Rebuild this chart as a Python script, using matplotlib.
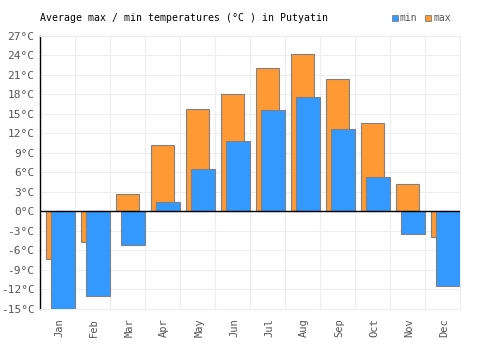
import numpy as np
import matplotlib
matplotlib.use("Agg")
import matplotlib.pyplot as plt
from matplotlib.patches import Rectangle

months = ["Jan", "Feb", "Mar", "Apr", "May", "Jun",
          "Jul", "Aug", "Sep", "Oct", "Nov", "Dec"]
t_max = [-7.3, -4.8, 2.6, 10.2, 15.7, 18.0, 22.0, 24.2, 20.3, 13.5, 4.2, -4.0]
t_min = [-15.0, -13.0, -5.2, 1.4, 6.5, 10.8, 15.5, 17.5, 12.6, 5.2, -3.5, -11.5]
yticks = list(range(-15, 28, 3))

ORANGE = "#ff9933"
BLUE = "#3399ff"
EDGE = "#808080"
GRID = "#eeeeee"
TXT = "#555555"
FONT = "DejaVu Sans Mono"

fig = plt.figure(figsize=(5, 3.5), dpi=100)
ax = fig.add_axes([0.08, 0.118, 0.84, 0.78])

x = np.arange(len(months))
ax.bar(x + 0.5, t_max, width=0.66, color=ORANGE, edgecolor=EDGE,
       linewidth=0.8, zorder=3)
ax.bar(x + 0.655, t_min, width=0.69, color=BLUE, edgecolor=EDGE,
       linewidth=0.8, zorder=4)

ax.set_xlim(0, 12)
ax.set_ylim(-15, 27)
ax.set_yticks(yticks)
ax.set_yticklabels([f"{v}°C" for v in yticks], family=FONT, fontsize=8,
                   color=TXT)
ax.set_xticks(np.arange(12), minor=False)
ax.set_xticklabels([])
ax.set_xticks(x + 0.55, minor=True)
ax.set_xticklabels(months, minor=True, rotation=90, family=FONT,
                   fontsize=7.5, color=TXT)
ax.tick_params(which="both", length=0)
ax.tick_params(axis="y", pad=4)
ax.tick_params(axis="x", which="minor", pad=7)
ax.grid(True, which="major", color=GRID, linewidth=0.8, zorder=0)
ax.axhline(0, color="black", linewidth=1.0, zorder=5)

for side in ["top", "right", "bottom"]:
    ax.spines[side].set_color(GRID)
ax.spines["left"].set_color("black")
ax.spines["left"].set_linewidth(1.0)

fig.text(0.08, 0.948, "Average max / min temperatures (°C ) in Putyatin",
         family=FONT, fontsize=7.1, color="black", va="center")

# legend
for xs, col, lab in [(0.784, BLUE, "min"), (0.85, ORANGE, "max")]:
    fig.patches.append(Rectangle((xs, 0.939), 0.012, 0.017, transform=fig.transFigure,
                                 facecolor=col, edgecolor=EDGE, linewidth=0.6))
    fig.text(xs + 0.016, 0.948, lab, family=FONT, fontsize=7, color=TXT,
             va="center")

fig.savefig("out.png", dpi=100)
